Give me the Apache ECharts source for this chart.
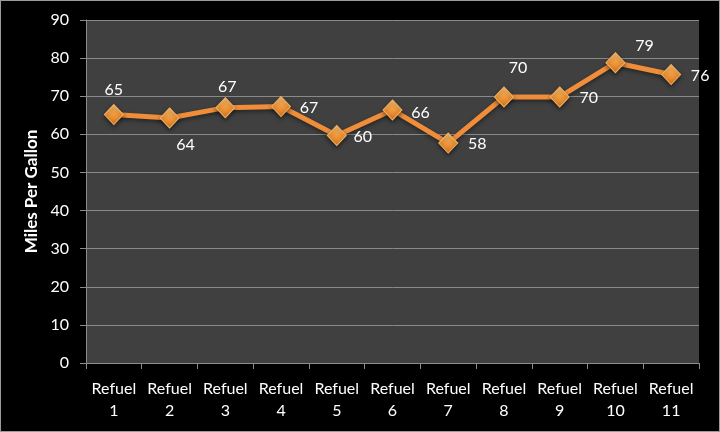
<!DOCTYPE html>
<html>
<head>
<meta charset="utf-8">
<script src="https://cdn.jsdelivr.net/npm/echarts@6/dist/echarts.min.js"></script>
<style>
  html, body { margin: 0; padding: 0; background: #000; }
  #chart { width: 718px; height: 430px; border: 1px solid #9a9a9a; }
</style>
</head>
<body>
<div id="chart"></div>
<script>
// categories and values
var categories = ['Refuel\n1', 'Refuel\n2', 'Refuel\n3', 'Refuel\n4', 'Refuel\n5', 'Refuel\n6',
  'Refuel\n7', 'Refuel\n8', 'Refuel\n9', 'Refuel\n10', 'Refuel\n11'];
var mpg = [65.2, 64.3, 67.0, 67.3, 59.7, 66.4, 57.7, 69.8, 69.8, 78.8, 75.7];
// where each value label sits relative to its marker
var labelOffsets = [[0, -25], [16, 27], [2, -21], [28, 1], [26, 1], [28, 3],
  [29, 1], [14, -29], [29, 1], [29, -17], [29, 1]];

var chart = echarts.init(document.getElementById('chart'));

var seriesData = mpg.map(function(v, i) {
  return {
    value: v,
    label: { offset: labelOffsets[i] }
  };
});

var font = 'Lato, "Open Sans", sans-serif';

var option = {
  backgroundColor: '#000',
  animation: false,
  grid: {
    left: 85,
    right: 20,
    top: 19,
    bottom: 68,
    show: true,
    backgroundColor: '#404040',
    borderWidth: 0
  },
  xAxis: {
    type: 'category',
    data: categories,
    boundaryGap: true,
    axisLine: { lineStyle: { color: '#8c8c8c', width: 1 } },
    axisTick: { show: true, length: 6, lineStyle: { color: '#8c8c8c' } },
    axisLabel: {
      color: '#ffffff',
      fontFamily: font,
      fontSize: 16,
      lineHeight: 22,
      margin: 15,
      interval: 0
    }
  },
  yAxis: {
    type: 'value',
    min: 0,
    max: 90,
    interval: 10,
    name: 'Miles Per Gallon',
    nameLocation: 'middle',
    nameRotate: 90,
    nameGap: 44,
    nameTextStyle: {
      color: '#ffffff',
      fontFamily: font,
      fontSize: 17,
      fontWeight: 'bold'
    },
    axisLine: { show: true, lineStyle: { color: '#8c8c8c' } },
    axisTick: { show: true, length: 6, lineStyle: { color: '#8c8c8c' } },
    axisLabel: {
      color: '#ffffff',
      fontFamily: font,
      fontSize: 16,
      margin: 17
    },
    splitLine: { lineStyle: { color: '#8a8a8a', width: 1 } }
  },
  series: [{
    type: 'line',
    data: seriesData,
    symbol: 'diamond',
    symbolSize: [19, 20],
    lineStyle: {
      color: '#ef8d3a',
      width: 5,
      shadowColor: 'rgba(0,0,0,0.45)',
      shadowBlur: 4,
      shadowOffsetY: 2
    },
    itemStyle: {
      color: new echarts.graphic.LinearGradient(0, 0, 0, 1, [
        { offset: 0, color: '#fbc476' },
        { offset: 0.5, color: '#f39a3c' },
        { offset: 1, color: '#d9771f' }
      ]),
      borderColor: '#f6b05e',
      borderWidth: 1,
      shadowColor: 'rgba(0,0,0,0.5)',
      shadowBlur: 4,
      shadowOffsetY: 2
    },
    label: {
      show: true,
      position: 'inside',
      align: 'center',
      verticalAlign: 'middle',
      color: '#ffffff',
      fontFamily: font,
      fontSize: 16,
      formatter: function(p) { return Math.round(p.value); }
    },
    z: 3
  }]
};

chart.setOption(option);
</script>
</body>
</html>
